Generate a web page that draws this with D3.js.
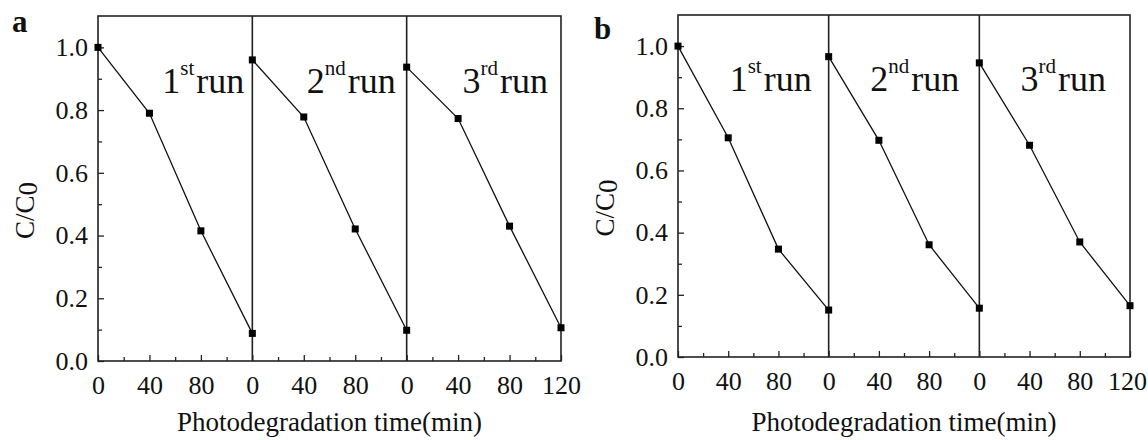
<!DOCTYPE html>
<html>
<head>
<meta charset="utf-8">
<script src="https://cdn.jsdelivr.net/npm/d3@7"></script>
<style>
  body { margin: 0; background: #fff; }
  svg { display: block; }
  svg text { font-family: "Liberation Serif", "Times New Roman", serif; }
  .frame { fill: none; stroke: #222; stroke-width: 1.6; }
  .divider { stroke: #222; stroke-width: 1.6; }
  .run { fill: none; stroke: #111; stroke-width: 1.3; }
  .tick line { stroke: #222; stroke-width: 1.3; }
  .domain { display: none; }
</style>
</head>
<body>
<svg width="1148" height="440"></svg>
<script>
'use strict';

// time inside each run (min), three runs of 120 min placed end to end
const minutes = [0, 40, 80, 120];
const runNames = [["1", "st"], ["2", "nd"], ["3", "rd"]];
const xTicks = [0, 20, 40, 60, 80, 100, 120, 140, 160, 180, 200, 220, 240, 260, 280, 300, 320, 340, 360];
const xTickLabels = ["0", "", "40", "", "80", "", "0", "", "40", "", "80", "", "0", "", "40", "", "80", "", "120"];
const yTicks = [0, 0.1, 0.2, 0.3, 0.4, 0.5, 0.6, 0.7, 0.8, 0.9, 1.0];

// C/C0
const runA1 = [1.00, 0.79, 0.415, 0.088];
const runA2 = [0.96, 0.778, 0.421, 0.098];
const runA3 = [0.937, 0.773, 0.43, 0.106];
const runB1 = [1.00, 0.705, 0.347, 0.151];
const runB2 = [0.966, 0.697, 0.361, 0.157];
const runB3 = [0.946, 0.681, 0.37, 0.165];

let svg = d3.select("svg");

function panel(o) {
    let x = d3.scaleLinear().domain([0, 360]).range([o.left, o.right]);
    let y = d3.scaleLinear().domain([0, 1.1]).range([o.bottom, o.top]);
    let g = svg.append("g");

    // x axis, ticks pointing inward
    let xa = g.append("g")
        .attr("transform", "translate(0," + o.bottom + ")")
        .call(d3.axisBottom(x).tickValues(xTicks).tickSize(-6).tickPadding(15)
            .tickFormat(function (d, i) { return xTickLabels[i]; }));
    xa.selectAll(".tick line").attr("y2", function (d) { return d % 40 === 0 ? -6 : -4; });
    xa.selectAll(".tick text").attr("font-size", 26).attr("fill", "#111").attr("dy", "0.71em")
        .attr("dx", function (d) { return d === 360 ? o.lastDx : 0; });

    let ya = g.append("g")
        .attr("transform", "translate(" + o.left + ",0)")
        .call(d3.axisLeft(y).tickValues(yTicks).tickSize(-6).tickPadding(10)
            .tickFormat(function (d) { return Math.round(d * 10) % 2 === 0 ? d3.format(".1f")(d) : ""; }));
    ya.selectAll(".tick line").attr("x2", function (d) { return Math.round(d * 10) % 2 === 0 ? 6 : 4; });
    ya.selectAll(".tick text").attr("font-size", 26).attr("fill", "#111");

    g.append("rect").attr("class", "frame")
        .attr("x", o.left).attr("y", o.top)
        .attr("width", o.right - o.left).attr("height", o.bottom - o.top);

    [120, 240].forEach(function (t) {
        g.append("line").attr("class", "divider")
            .attr("x1", x(t)).attr("x2", x(t))
            .attr("y1", o.top).attr("y2", o.bottom);
    });

    let line = d3.line()
        .x(function (d) { return x(d[0]); })
        .y(function (d) { return y(d[1]); });

    o.runs.forEach(function (vals, k) {
        let pts = minutes.map(function (m, i) { return [m + 120 * k, vals[i]]; });
        g.append("path").attr("class", "run").attr("d", line(pts));
        g.selectAll(null).data(pts).enter().append("rect")
            .attr("x", function (d) { return x(d[0]) - 3.5; })
            .attr("y", function (d) { return y(d[1]) - 3.5; })
            .attr("width", 7).attr("height", 7)
            .attr("fill", "#000");

        let lbl = g.append("text")
            .attr("x", x(120 * (k + 1)) - o.labelInset[k])
            .attr("y", y(0.855))
            .attr("text-anchor", "end")
            .attr("font-size", 36)
            .attr("fill", "#111");
        lbl.append("tspan").text(runNames[k][0]);
        lbl.append("tspan").attr("font-size", 21).attr("dy", -18).text(runNames[k][1]);
        lbl.append("tspan").attr("dy", 18).attr("dx", 2).text("run");
    });

    // panel letter
    g.append("text").attr("x", o.letterX).attr("y", o.letterY)
        .attr("font-size", 31).attr("font-weight", "bold").attr("fill", "#111")
        .text(o.letter);

    // y title C/C0
    let yt = g.append("text")
        .attr("transform", "translate(" + o.yTitleX + "," + ((o.top + o.bottom) / 2 + 22) + ") rotate(-90)")
        .attr("text-anchor", "middle")
        .attr("font-size", 27).attr("fill", "#111");
    yt.append("tspan").text("C/C");
    yt.append("tspan").attr("dy", 3).text("0");

    g.append("text")
        .attr("x", (o.left + o.right) / 2).attr("y", 431)
        .attr("text-anchor", "middle")
        .attr("font-size", 27).attr("fill", "#111")
        .text("Photodegradation time(min)");
}

panel({left: 98, right: 561, top: 16, bottom: 361, runs: [runA1, runA2, runA3], lastDx: 0,
    labelInset: [8, 11, 13], letter: "a", letterX: 12, letterY: 32, yTitleX: 34});
panel({left: 678, right: 1130, top: 15, bottom: 357, runs: [runB1, runB2, runB3], lastDx: -3,
    labelInset: [17, 20, 24], letter: "b", letterX: 594, letterY: 39, yTitleX: 614});
</script>
</body>
</html>
